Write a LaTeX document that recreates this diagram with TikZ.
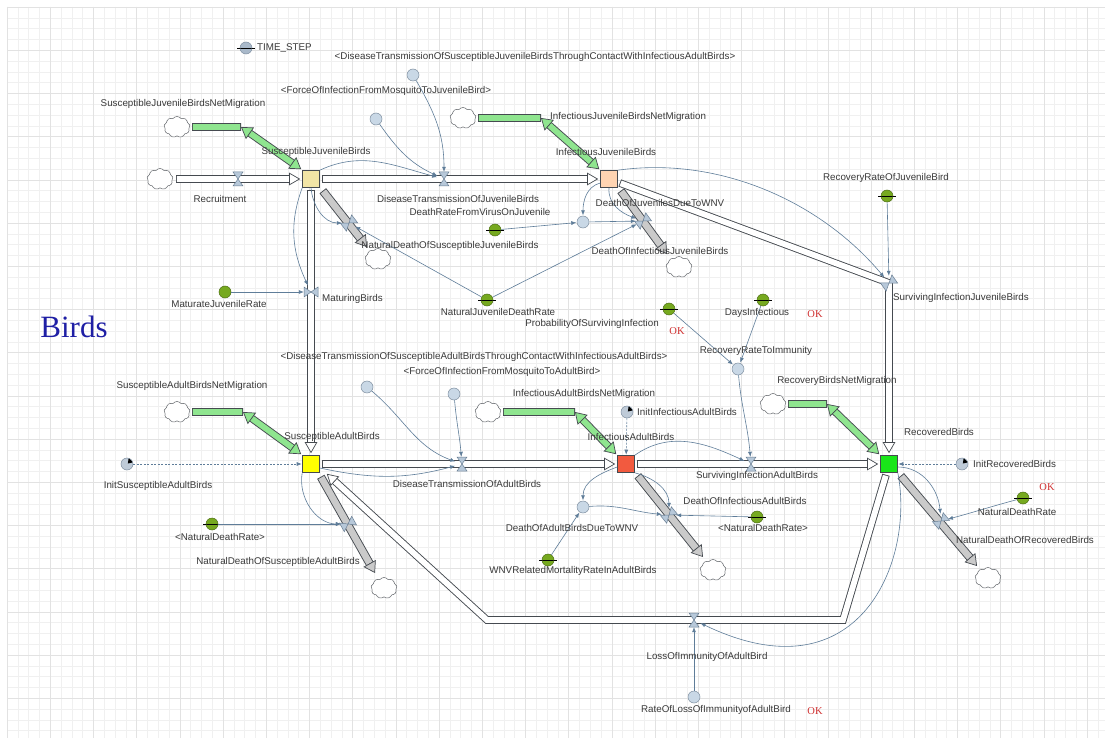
\documentclass[tikz,border=0pt]{standalone}
\usepackage{fontspec}
\setmainfont{Liberation Sans}
\newfontfamily\titleserif{Liberation Serif}
\usetikzlibrary{arrows.meta,calc,shapes.symbols}

\definecolor{gridmin}{HTML}{F0F0F0}
\definecolor{gridmaj}{HTML}{E2E2E2}
\definecolor{pipeline}{HTML}{454A50}
\definecolor{linkc}{HTML}{5F7D99}
\definecolor{auxfill}{HTML}{C9D8E6}
\definecolor{auxline}{HTML}{7F8FA0}
\definecolor{tsfill}{HTML}{A9B9CA}
\definecolor{initfill}{HTML}{BFCBD8}
\definecolor{parfill}{HTML}{76A91F}
\definecolor{parline}{HTML}{4D6E14}
\definecolor{vfill}{HTML}{B7C8D9}
\definecolor{vline}{HTML}{6A7F94}
\definecolor{grayfill}{HTML}{CACACA}
\definecolor{greenfill}{HTML}{8FE58F}
\definecolor{txt}{HTML}{3A3A3A}
\definecolor{okred}{HTML}{D03030}
\definecolor{titleblue}{HTML}{1F1FA5}
\definecolor{sjfill}{HTML}{F2E5A6}
\definecolor{ijfill}{HTML}{FFD4B2}
\definecolor{safill}{HTML}{FFFF00}
\definecolor{iafill}{HTML}{F25A3F}
\definecolor{rfill}{HTML}{19E619}

% valve: invisible round node (link target) plus two triangles across the pipe
\newcommand\valve[3]{%
  \node[valvehit] (#1) at #2 {};
  \begin{scope}[shift={(#1.center)},rotate=#3]
    \filldraw[draw=vline,fill=vfill,line width=0.5pt] (0,0) -- (-5,-7) -- (5,-7) -- cycle;
    \filldraw[draw=vline,fill=vfill,line width=0.5pt] (0,0) -- (-5,7) -- (5,7) -- cycle;
  \end{scope}}
% plain band between two coordinates: #1 fill colour
\newcommand\band[3]{%
  \draw[draw=pipeline, line width=7.6pt] (#2) -- (#3);
  \draw[draw=#1, line width=5.8pt, shorten <=0.9pt, shorten >=0.9pt] (#2) -- (#3);}
% straight pipe with a head: #1 fill colour, #2 start coordinate, #3 tip coordinate
\newcommand\pipeto[3]{%
  \draw[draw=pipeline, line width=7.6pt] (#2) -- ($(#3)!10pt!(#2)$);
  \draw[draw=#1, line width=5.8pt, shorten <=0.9pt, shorten >=0.9pt] (#2) -- ($(#3)!10pt!(#2)$);
  \draw[fhead=#1] ($(#3)!11pt!(#2)$) -- (#3);}
% outflow to a cloud
\newcommand\outflow[2]{%
  \draw[draw=pipeline, line width=8.4pt] (#1) -- ($(#2)!10pt!(#1)$);
  \draw[draw=grayfill, line width=6.6pt, shorten <=0.9pt, shorten >=0.9pt] (#1) -- ($(#2)!10pt!(#1)$);
  \draw[ghead] ($(#2)!11pt!(#1)$) -- (#2);}
% net migration: cloud, corner, tip at stock (two-way on the slanted part)
\newcommand\migr[3]{%
  \coordinate (#1s) at ($(#1.east)+(2,0)$);
  \band{greenfill}{#1s}{#2}
  \draw[draw=pipeline, line width=7.6pt] ($(#2)!10pt!(#3)$) -- ($(#3)!10pt!(#2)$);
  \draw[draw=greenfill, line width=5.8pt, shorten <=0.9pt, shorten >=0.9pt] ($(#2)!10pt!(#3)$) -- ($(#3)!10pt!(#2)$);
  \draw[mhead] ($(#2)!11pt!(#3)$) -- (#2);
  \draw[mhead] ($(#3)!11pt!(#2)$) -- (#3);}

\begin{document}
\begin{tikzpicture}[x=1pt,y=-1pt,
  lbl/.style={font=\fontsize{9.8pt}{11pt}\selectfont, text=txt, inner sep=0pt},
  okl/.style={font=\titleserif\fontsize{10.5pt}{12pt}\selectfont, text=okred, inner sep=0pt},
  stockbox/.style={draw=pipeline, line width=0.6pt, minimum size=17pt, inner sep=0pt},
  auxc/.style={circle, draw=auxline, fill=auxfill, line width=0.5pt, minimum size=12pt, inner sep=0pt},
  parplain/.style={circle, draw=parline, fill=parfill, line width=0.5pt, minimum size=12pt, inner sep=0pt},
  parc/.style={parplain,
    path picture={\draw[black,line width=0.8pt] (path picture bounding box.west) -- (path picture bounding box.east);},
    append after command={([xshift=-2.5pt]\tikzlastnode.west) edge[draw=black, line width=0.8pt] (\tikzlastnode.west) (\tikzlastnode.east) edge[draw=black, line width=0.8pt] ([xshift=2.5pt]\tikzlastnode.east)}},
  tsc/.style={parc, fill=tsfill, draw=auxline},
  initc/.style={auxc, fill=initfill, path picture={\fill[black] ([shift={(30:1pt)}]path picture bounding box.center) -- ([shift={(15:6.5pt)}]path picture bounding box.center) -- ([shift={(75:6.5pt)}]path picture bounding box.center) -- cycle;}},
  cloudc/.style={cloud, cloud puffs=9, cloud puff arc=110, aspect=1.25, draw=pipeline!85, fill=white, line width=0.5pt, minimum width=26pt, minimum height=21pt, inner sep=0pt},
  valvehit/.style={circle, minimum size=13pt, inner sep=0pt},
  fhead/.style={draw=pipeline, line width=0.7pt, -{Triangle[length=11pt,width=12.5pt,fill=#1]}},
  ghead/.style={draw=pipeline, line width=0.7pt, -{Triangle[length=11pt,width=14pt,fill=grayfill]}},
  mhead/.style={draw=pipeline, line width=0.7pt, -{Triangle[length=11pt,width=14pt,fill=greenfill]}},
  lnk/.style={draw=linkc, line width=0.6pt, -{Latex[length=5pt,width=4pt]}, shorten >=0.5pt},
  ilnk/.style={lnk, dash pattern=on 2pt off 1.5pt}]

\useasboundingbox (0,0) rectangle (1105,738);
\fill[white] (0,0) rectangle (1105,738);

% background grid
\foreach \i in {0,...,101} {\pgfmathsetmacro\gx{7+10.8*\i}\draw[gridmin,line width=0.4pt] (\gx,7) -- (\gx,738);}
\foreach \j in {0,...,67} {\pgfmathsetmacro\gy{7+10.8*\j}\draw[gridmin,line width=0.4pt] (7,\gy) -- (1105,\gy);}
\foreach \i in {0,4,...,100} {\pgfmathsetmacro\gx{7+10.8*\i}\draw[gridmaj,line width=0.4pt] (\gx,7) -- (\gx,738);}
\foreach \j in {0,4,...,64} {\pgfmathsetmacro\gy{7+10.8*\j}\draw[gridmaj,line width=0.4pt] (7,\gy) -- (1105,\gy);}

% stocks
\node[stockbox, fill=sjfill] (SJ) at (311,179) {};
\node[stockbox, fill=ijfill] (IJ) at (609,179) {};
\node[stockbox, fill=safill] (SA) at (311,464) {};
\node[stockbox, fill=iafill] (IA) at (626,464) {};
\node[stockbox, fill=rfill] (RB) at (889,464) {};

% clouds
\node[cloudc] (cRec) at (160,179) {};
\node[cloudc] (cSJM) at (177,127) {};
\node[cloudc] (cIJM) at (463,118) {};
\node[cloudc] (cSAM) at (177,412) {};
\node[cloudc] (cIAM) at (488,412) {};
\node[cloudc] (cRM) at (773,404) {};
\node[cloudc] (cNDSJ) at (378,259) {};
\node[cloudc] (cDIJ) at (679,267) {};
\node[cloudc] (cNDSA) at (384,588) {};
\node[cloudc] (cDIA) at (713,570) {};
\node[cloudc] (cNDRB) at (988,578) {};

% pipe ends, corners and tips
\coordinate (sRec) at ($(cRec.east)+(3,0)$);
\coordinate (eRec) at ($(SJ.west)+(-2,0)$);
\coordinate (sDTJ) at ($(SJ.east)+(2,0)$);
\coordinate (eDTJ) at ($(IJ.west)+(-2,0)$);
\coordinate (sMat) at ($(SJ.south)+(0,2)$);
\coordinate (eMat) at ($(SA.north)+(0,-2)$);
\coordinate (sDTA) at ($(SA.east)+(2,0)$);
\coordinate (eDTA) at ($(IA.west)+(-2,0)$);
\coordinate (sSIA) at ($(IA.east)+(2,0)$);
\coordinate (eSIA) at ($(RB.west)+(-2,0)$);
\coordinate (sSIJ) at ($(IJ.east)+(2,4)$);
\coordinate (kSIJ) at (889,283);
\coordinate (eSIJ) at ($(RB.north)+(0,-2)$);
\coordinate (sLOI) at ($(RB.south)+(-3,2)$);
\coordinate (kL1) at (843,620);
\coordinate (kL2) at (487,620);
\coordinate (tLOI) at ($(SA.south east)+(7,1)$);
\coordinate (kSJM) at (241,127);
\coordinate (kIJM) at (541,118);
\coordinate (kSAM) at (243,412);
\coordinate (kIAM) at (575,412);
\coordinate (kRM) at (827,404);
\coordinate (tSJM) at ($(SJ.north west)+(-1,-1)$);
\coordinate (tIJM) at ($(IJ.north west)+(-1,-1)$);
\coordinate (tSAM) at ($(SA.north west)+(-1,-1)$);
\coordinate (tIAM) at ($(IA.north west)+(-1,-1)$);
\coordinate (tRM) at ($(RB.north west)+(-1,-1)$);
\coordinate (sNDSJ) at ($(SJ.south east)+(3,3)$);
\coordinate (sDIJ) at ($(IJ.south east)+(3,3)$);
\coordinate (sNDSA) at ($(SA.south east)+(1,4)$);
\coordinate (sDIA) at ($(IA.south east)+(3,3)$);
\coordinate (sNDRB) at ($(RB.south east)+(3,3)$);
\coordinate (tNDSJ) at (367,247);
\coordinate (tDIJ) at (667,254);
\coordinate (tNDSA) at (375,573);
\coordinate (tDIA) at (703,557);
\coordinate (tNDRB) at (977,566);

% flows between stocks
\pipeto{white}{sRec}{eRec}
\pipeto{white}{sDTJ}{eDTJ}
\pipeto{white}{sMat}{eMat}
\pipeto{white}{sDTA}{eDTA}
\pipeto{white}{sSIA}{eSIA}
\draw[draw=pipeline, line width=7.6pt, line join=miter] (sSIJ) -- (kSIJ) -- ($(eSIJ)+(0,-10)$);
\draw[draw=white, line width=5.8pt, line join=miter, shorten <=0.9pt, shorten >=0.9pt] (sSIJ) -- (kSIJ) -- ($(eSIJ)+(0,-10)$);
\draw[fhead=white] ($(eSIJ)+(0,-11)$) -- (eSIJ);
\draw[draw=pipeline, line width=7.6pt, line join=miter] (sLOI) -- (kL1) -- (kL2) -- ($(tLOI)!10pt!(kL2)$);
\draw[draw=white, line width=5.8pt, line join=miter, shorten <=0.9pt, shorten >=0.9pt] (sLOI) -- (kL1) -- (kL2) -- ($(tLOI)!10pt!(kL2)$);
\draw[fhead=white] ($(tLOI)!11pt!(kL2)$) -- (tLOI);

% outflows
\outflow{sNDSJ}{tNDSJ}
\outflow{sDIJ}{tDIJ}
\outflow{sNDSA}{tNDSA}
\outflow{sDIA}{tDIA}
\outflow{sNDRB}{tNDRB}

% net migration
\migr{cSJM}{kSJM}{tSJM}
\migr{cIJM}{kIJM}{tIJM}
\migr{cSAM}{kSAM}{tSAM}
\migr{cIAM}{kIAM}{tIAM}
\migr{cRM}{kRM}{tRM}

% valves
\valve{vRec}{(238,179)}{0}
\valve{vDTJ}{(444,179)}{0}
\valve{vMat}{(311,292)}{90}
\valve{vSIJ}{(889,283)}{-55}
\valve{vSIA}{(751,464)}{0}
\valve{vDTA}{(462,464)}{0}
\valve{vLOI}{(694,620)}{0}
\valve{vNDSJ}{(349,223)}{-53}
\valve{vDIJ}{(643,221)}{-54}
\valve{vNDSA}{(348,524)}{-61}
\valve{vDIA}{(669,515)}{-51}
\valve{vNDRB}{(941,521)}{-50}

% variables and parameters
\node[tsc] (TS) at (246,48) {};
\node[auxc] (shDTSJ) at (413,75) {};
\node[auxc] (shFJ) at (376,119) {};
\node[parc] (DRV) at (495,230) {};
\node[auxc] (DJW) at (583,222) {};
\node[parc] (NJDR) at (487,300) {};
\node[parplain] (MJR) at (225,292) {};
\node[parc] (RRJB) at (887,196) {};
\node[parc] (PSI) at (669,309) {};
\node[parc] (DI) at (763,300) {};
\node[auxc] (RRI) at (738,369) {};
\node[auxc] (shDTSA) at (367,387) {};
\node[auxc] (shFA) at (454,394) {};
\node[initc] (InitIA) at (627,412) {};
\node[initc] (InitSA) at (127,464) {};
\node[initc] (InitR) at (962,464) {};
\node[auxc] (DAW) at (583,507) {};
\node[parc] (NDRa) at (757,517) {};
\node[parc] (NDRb) at (212,524) {};
\node[parc] (NDR) at (1023,498) {};
\node[parc] (WNV) at (548,560) {};
\node[auxc] (RLI) at (694,697) {};

% links
\draw[lnk] (shDTSJ) to[out=-60,in=90] (vDTJ);
\draw[lnk] (shFJ) to[out=-55,in=155] (vDTJ);
\draw[lnk] (SJ.north east) to[out=25,in=165] (vDTJ);
\draw[lnk] (SJ.south) to[out=-85,in=180] (vNDSJ);
\draw[lnk] (NJDR) -- (vNDSJ);
\draw[lnk] (NJDR) -- (vDIJ);
\draw[lnk] (DRV) -- (DJW);
\draw[lnk] (DJW) -- (vDIJ);
\draw[lnk] ([yshift=-4pt]IJ.west) to[out=195,in=90] (DJW);
\draw[lnk] (IJ.south) to[out=-95,in=160] (vDIJ);
\draw[lnk] (IJ.north east) to[out=8,in=130,looseness=0.9] (vSIJ);
\draw[lnk] (RRJB) -- (vSIJ);
\draw[lnk] (MJR) -- (vMat);
\draw[lnk] (SJ.south west) to[out=-110,in=115] (vMat);
\draw[lnk] (PSI) -- (RRI);
\draw[lnk] (DI) -- (RRI);
\draw[lnk] (RRI) to[out=-85,in=95] (vSIA);
\draw[lnk] (IA.north east) to[out=35,in=155] (vSIA);
\draw[lnk] ([yshift=-3pt]IA.west) to[out=200,in=90] (DAW);
\draw[lnk] (IA.south east) to[out=-15,in=90] (vDIA);
\draw[lnk] (DAW) to[out=5,in=175] (vDIA);
\draw[lnk] (WNV) -- (DAW);
\draw[lnk] (NDRa) -- (vDIA);
\draw[lnk] (NDRb) -- (vNDSA);
\draw[lnk] (SA.south west) to[out=-100,in=180] (vNDSA);
\draw[lnk] ([yshift=-4pt]SA.east) to[out=-12,in=195] (vDTA);
\draw[lnk] (shDTSA) to[out=-40,in=160] (vDTA);
\draw[lnk] (shFA) to[out=-85,in=95] (vDTA);
\draw[ilnk] (InitSA) -- (SA);
\draw[ilnk] (InitIA) -- (IA);
\draw[ilnk] (InitR) -- (RB);
\draw[lnk] ([yshift=-3pt]RB.east) to[out=0,in=95] (vNDRB);
\draw[lnk] (NDR) to[out=195,in=15] (vNDRB);
\draw[lnk] (RB.south east) .. controls (915,560) and (860,700) .. (vLOI);
\draw[lnk] (RLI) -- (vLOI);

% labels
\node[lbl, anchor=west] (lTS) at (257,48) {TIME\_STEP};
\node[lbl] (lshDTSJ) at (535,57) {<DiseaseTransmissionOfSusceptibleJuvenileBirdsThroughContactWithInfectiousAdultBirds>};
\node[lbl] (lshFJ) at (386,91) {<ForceOfInfectionFromMosquitoToJuvenileBird>};
\node[lbl] (lSJM) at (183,104) {SusceptibleJuvenileBirdsNetMigration};
\node[lbl, anchor=west] (lIJM) at (550,117) {InfectiousJuvenileBirdsNetMigration};
\node[lbl] (lSJ) at (316,152) {SusceptibleJuvenileBirds};
\node[lbl] (lIJ) at (606,152) {InfectiousJuvenileBirds};
\node[lbl] (lRec) at (220,199) {Recruitment};
\node[lbl] (lDTJ) at (458,199) {DiseaseTransmissionOfJuvenileBirds};
\node[lbl] (lRRJB) at (886,178) {RecoveryRateOfJuvenileBird};
\node[lbl] (lDJW) at (660,203) {DeathOfJuvenilesDueToWNV};
\node[lbl] (lDRV) at (480,212) {DeathRateFromVirusOnJuvenile};
\node[lbl] (lNDSJ) at (450,246) {NaturalDeathOfSusceptibleJuvenileBirds};
\node[lbl] (lDIJ) at (660,251) {DeathOfInfectiousJuvenileBirds};
\node[lbl, anchor=west] (lMat) at (322,299) {MaturingBirds};
\node[lbl] (lMJR) at (219,304) {MaturateJuvenileRate};
\node[lbl] (lNJDR) at (498,312) {NaturalJuvenileDeathRate};
\node[lbl, anchor=west] (lSIJ) at (893,298) {SurvivingInfectionJuvenileBirds};
\node[lbl] (lDI) at (757,313) {DaysInfectious};
\node[lbl] (lPSI) at (592,324) {ProbabilityOfSurvivingInfection};
\node[lbl] (lRRI) at (756,351) {RecoveryRateToImmunity};
\node[lbl] (lshDTSA) at (474,357) {<DiseaseTransmissionOfSusceptibleAdultBirdsThroughContactWithInfectiousAdultBirds>};
\node[lbl] (lshFA) at (502,372) {<ForceOfInfectionFromMosquitoToAdultBird>};
\node[lbl] (lRM) at (837,381) {RecoveryBirdsNetMigration};
\node[lbl] (lSAM) at (192,386) {SusceptibleAdultBirdsNetMigration};
\node[lbl] (lIAM) at (584,394) {InfectiousAdultBirdsNetMigration};
\node[lbl, anchor=west] (lInitIA) at (637,412) {InitInfectiousAdultBirds};
\node[lbl] (lRB) at (939,432) {RecoveredBirds};
\node[lbl] (lSA) at (332,437) {SusceptibleAdultBirds};
\node[lbl] (lIA) at (631,437) {InfectiousAdultBirds};
\node[lbl, anchor=west] (lInitR) at (973,464) {InitRecoveredBirds};
\node[lbl] (lSIA) at (757,476) {SurvivingInfectionAdultBirds};
\node[lbl] (lDTA) at (467,484) {DiseaseTransmissionOfAdultBirds};
\node[lbl] (lInitSA) at (158,486) {InitSusceptibleAdultBirds};
\node[lbl] (lDIA) at (745,501) {DeathOfInfectiousAdultBirds};
\node[lbl] (lNDR) at (1017,512) {NaturalDeathRate};
\node[lbl] (lDAW) at (572,528) {DeathOfAdultBirdsDueToWNV};
\node[lbl] (lNDRa) at (763,528) {<NaturalDeathRate>};
\node[lbl] (lNDRb) at (220,537) {<NaturalDeathRate>};
\node[lbl] (lNDRB) at (1025,540) {NaturalDeathOfRecoveredBirds};
\node[lbl] (lNDSA) at (278,562) {NaturalDeathOfSusceptibleAdultBirds};
\node[lbl] (lWNV) at (573,571) {WNVRelatedMortalityRateInAdultBirds};
\node[lbl] (lLOI) at (707,657) {LossOfImmunityOfAdultBird};
\node[lbl] (lRLI) at (716,710) {RateOfLossOfImmunityofAdultBird};
\node[okl] (ok1) at (815,314) {OK};
\node[okl] (ok2) at (677,331) {OK};
\node[okl] (ok3) at (1047,487) {OK};
\node[okl] (ok4) at (815,711) {OK};
\node[font=\titleserif\fontsize{31pt}{34pt}\selectfont, text=titleblue, inner sep=0pt] (ttl) at (74,327) {Birds};
\end{tikzpicture}
\end{document}
